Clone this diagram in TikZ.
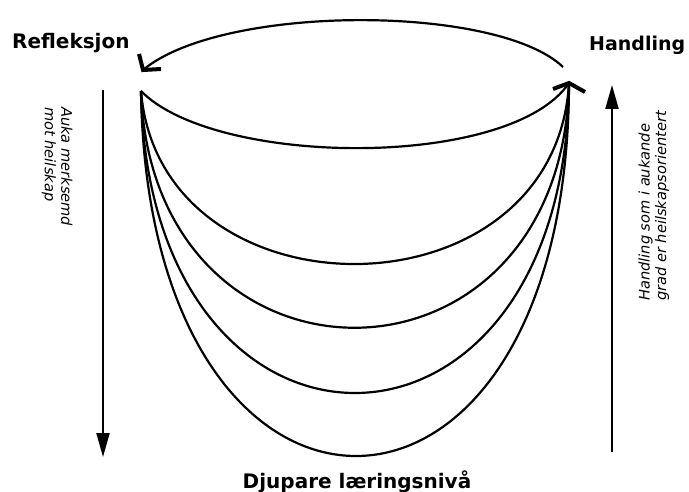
\documentclass[tikz,border=0pt]{standalone}
\usepackage{fontspec}
\setmainfont{DejaVu Sans}[ItalicFont={DejaVu Sans Oblique},BoldFont={DejaVu Sans Bold},BoldItalicFont={DejaVu Sans Bold Oblique}]
\newfontfamily\sidefont{DejaVu Sans Oblique}
\usetikzlibrary{arrows.meta}
\begin{document}
\begin{tikzpicture}[x=1pt,y=1pt,
  curve/.style={line width=2.2pt},
  chevron/.style={line width=4pt, miter limit=10},
  bold label/.style={font=\fontsize{20}{23}\selectfont\bfseries, inner sep=0pt},
  side label/.style={font=\fontsize{14.6}{16.5}\sidefont, inner sep=0pt, align=left},
  axis arrow/.style={line width=2.2pt, -{Triangle[length=24pt,width=13pt]}},
]
\useasboundingbox (0,0) rectangle (689,-492);

% labels
\node[bold label, anchor=base west] (refl) at (12,-49) {Refleksjon};
\node[bold label, font=\fontsize{19}{22}\selectfont\bfseries, anchor=base west] (hand) at (589,-51) {Handling};
\node[bold label, anchor=base] (djup) at (357,-488) {Djupare læringsnivå};
\node[side label, rotate=-90, anchor=base west] (leftlbl) at (45,-107) {Auka merksemd\\mot heilskap};
\node[side label, rotate=90, anchor=base west] (rightlbl) at (666,-301) {Handling som i aukande\\grad er heilskapsorientert};

% coordinates
\coordinate (L) at (141,-91);
\coordinate (R) at (569,-83);
\coordinate (TR) at (563,-67);
\coordinate (TL) at (143,-70);
\coordinate (LA1) at (103,-90);
\coordinate (LA2) at (103,-457);
\coordinate (RA1) at (612,-452);
\coordinate (RA2) at (612,-85);

% top arc with its arrowhead
\draw[curve] (TR) .. controls (497,-4) and (222,-4) .. (TL);
\draw[chevron] (TL) ++(-4,16) -- (TL) -- ++(18,1);

% nested curves
\draw[curve] (L) .. controls (215,-167) and (510,-170) .. (R);
\draw[curve] (L) .. controls (160,-323) and (555,-323) .. (R);
\draw[curve] (L) .. controls (152,-408) and (562,-408) .. (R);
\draw[curve] (L) .. controls (148,-495) and (566,-495) .. (R);
\draw[curve] (L) .. controls (148,-579) and (568,-579) .. (R);
\draw[chevron] (R) ++(-16,-6) -- (R) -- ++(16,-9);

% side arrows
\draw[axis arrow] (LA1) -- (LA2);
\draw[axis arrow] (RA1) -- (RA2);
\end{tikzpicture}
\end{document}
